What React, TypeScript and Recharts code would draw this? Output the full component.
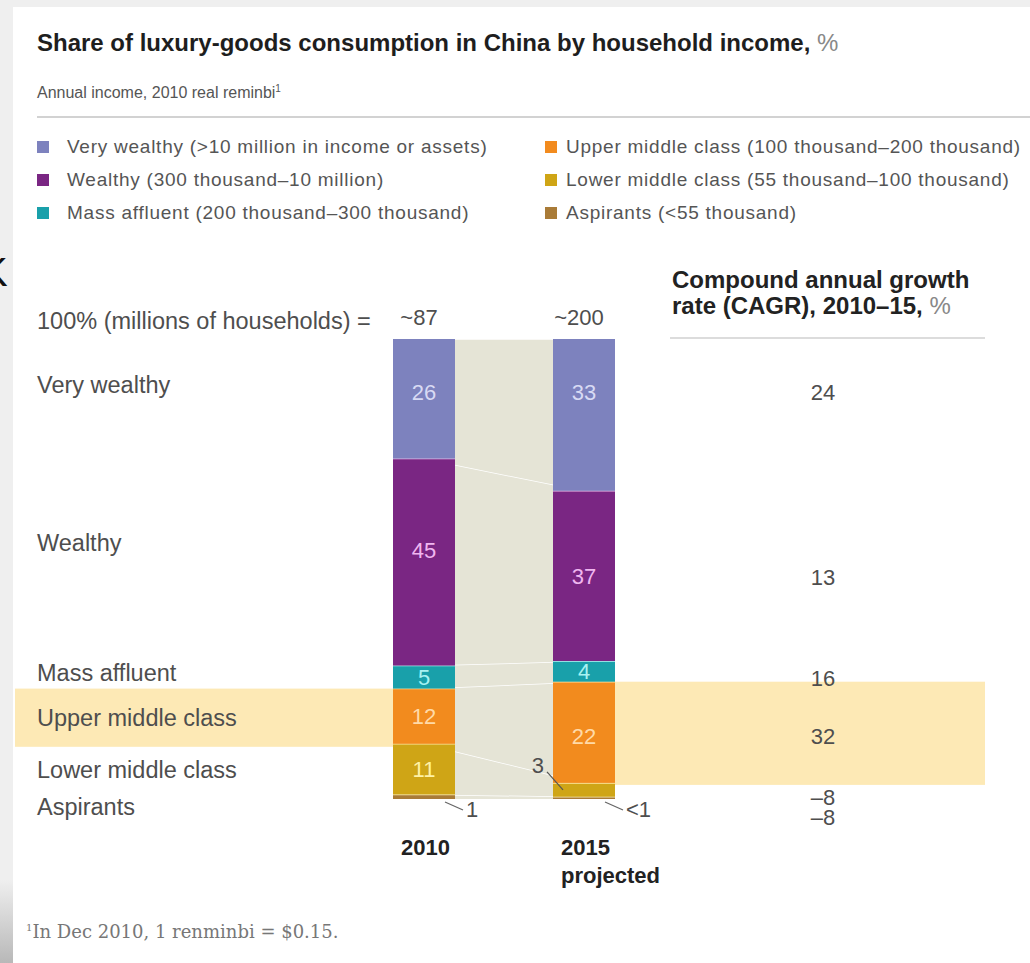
import { ComposedChart, Bar, Area, XAxis, YAxis, LabelList } from 'recharts';

const years = ['2010', '2015'];
const yearLines = [['2010'], ['2015', 'projected']];
const households = ['~87', '~200'];

// segments, listed top to bottom as in the bars
const segments = ['Very wealthy', 'Wealthy', 'Mass affluent', 'Upper middle class', 'Lower middle class', 'Aspirants'];
const legendNames = [
  'Very wealthy (>10 million in income or assets)',
  'Wealthy (300 thousand–10 million)',
  'Mass affluent (200 thousand–300 thousand)',
  'Upper middle class (100 thousand–200 thousand)',
  'Lower middle class (55 thousand–100 thousand)',
  'Aspirants (<55 thousand)',
];
const share2010 = [26, 45, 5, 12, 11, 1];
const share2015 = [33, 37, 4.5, 22, 3, 0.5];
const labels2010 = ['26', '45', '5', '12', '11', '1'];
const labels2015 = ['33', '37', '4', '22', '3', '<1'];
const cagr = ['24', '13', '16', '32', '–8', '–8'];

const keys = ['veryWealthy', 'wealthy', 'massAffluent', 'upperMiddle', 'lowerMiddle', 'aspirants'];
const colors = ['#7d82be', '#7a2683', '#19a0aa', '#f28b1e', '#cfa516', '#a97b37'];
const valueColors = ['#d8daf4', '#f0b6f0', '#a8f2f2', '#ffdaa8', '#fff2a6', '#555'];
const sepColors = ['#fff', '#efc8ef', '#bff4f4', '#ffe3a0', '#ffe9a6', '#f5e6b0'];

const FONT = "'Liberation Sans', Arial, Helvetica, sans-serif";
const GAP = '#e5e4d6';
const BAND = '#fde9b5';
const TEXT = '#4e4e4e';

const data = years.map((year, i) => {
  const row: Record<string, string | number> = { year };
  keys.forEach((k, s) => {
    row[k] = (i === 0 ? share2010 : share2015)[s];
  });
  return row;
});

// small nudges so the texts sit where the original puts them
const rowDy = [-14, -19, -4, 2, 1, 10];
const valueDy = [[-7, -12, 0, 0, 0, 0], [-23, 0, 0, 4, 0, 0]];
const cagrDy = [-23, 1, 7, 4, 7, 19];

const segmentShape = (s: number) => (props: any) => {
  const { x, y, width, height, fill, index } = props;
  return (
    <g>
      {s === 3 && index === 0 && <rect x={x - 378} y={y} width={378} height={height + 3} fill={BAND} />}
      {s === 3 && index === 1 && <rect x={x + width} y={y} width={370} height={height + 2} fill={BAND} />}
      <rect x={x} y={y} width={width} height={height} fill={fill} />
      {s > 0 && <line x1={x} x2={x + width} y1={y} y2={y} stroke={sepColors[s]} strokeWidth={1.5} />}
    </g>
  );
};

const segmentLabel = (s: number) => (props: any) => {
  const vb = props.viewBox ?? props;
  const { x, y, width, height } = vb;
  const i = props.index;
  const cx = x + width / 2;
  const cy = y + height / 2;
  const text = (i === 0 ? labels2010 : labels2015)[s];
  const outside = s === 5 || (s === 4 && i === 1);
  return (
    <g fontFamily={FONT}>
      {s === 0 && (
        <text x={cx - 5} y={y - 22} dy="0.35em" textAnchor="middle" fontSize={22} fill={TEXT}>
          {households[i]}
        </text>
      )}
      {i === 0 ? (
        <text x={x - 356} y={cy + rowDy[s]} dy="0.35em" fontSize={23.5} fill={TEXT}>
          {segments[s]}
        </text>
      ) : (
        <text x={x + width + 208} y={cy + cagrDy[s]} dy="0.35em" textAnchor="middle" fontSize={22} fill={TEXT}>
          {cagr[s]}
        </text>
      )}
      {!outside && (
        <text x={cx} y={cy + valueDy[i][s]} dy="0.35em" textAnchor="middle" fontSize={22} fill={valueColors[s]}>
          {text}
        </text>
      )}
      {s === 5 && (
        <g>
          <line x1={x + width - 10} y1={y + height + 3} x2={x + width + 8} y2={y + height + 11} stroke="#666" strokeWidth={1.2} />
          <text x={x + width + 11} y={y + height + 10} dy="0.35em" fontSize={22} fill={TEXT}>
            {text}
          </text>
        </g>
      )}
      {s === 4 && i === 1 && (
        <g>
          <line x1={x + 10} y1={cy} x2={x - 6} y2={cy - 18} stroke="#555" strokeWidth={1.2} />
          <text x={x - 9} y={cy - 25} dy="0.35em" textAnchor="end" fontSize={22} fill={TEXT}>
            {text}
          </text>
        </g>
      )}
    </g>
  );
};

const YearTick = (props: any) => {
  const { x, y, payload, index } = props;
  const lines = yearLines[index] ?? [payload.value];
  return (
    <text x={x - 23} y={y} fontFamily={FONT} fontWeight="bold" fontSize={22} fill="#222">
      {lines.map((l, k) => (
        <tspan key={k} x={x - 23} dy={k === 0 ? 48 : 28}>
          {l}
        </tspan>
      ))}
    </text>
  );
};

export default function App() {
  const order = [5, 4, 3, 2, 1, 0]; // stack from the bottom up
  return (
    <div style={{ position: 'absolute', left: 0, top: 0, width: 1030, height: 963, background: '#efefef', overflow: 'hidden', fontFamily: FONT }}>
      <div style={{ position: 'absolute', left: -19, top: 252, fontSize: 40, color: '#111', lineHeight: 1 }}>K</div>
      <div style={{ position: 'absolute', left: 0, top: 880, width: 13, height: 83, background: 'linear-gradient(#efefef, #b8b8b8)' }} />
      <div style={{ position: 'absolute', left: 13, top: 7, right: 0, bottom: 0, background: '#fff' }} />

      <div style={{ position: 'absolute', left: 37, top: 31, fontSize: 24, lineHeight: 1, fontWeight: 'bold', color: '#1e1e1e', whiteSpace: 'nowrap' }}>
        Share of luxury-goods consumption in China by household income, <span style={{ fontWeight: 'normal', color: '#888' }}>%</span>
      </div>
      <div style={{ position: 'absolute', left: 37, top: 84, fontSize: 16, lineHeight: 1, color: '#555', whiteSpace: 'nowrap' }}>
        Annual income, 2010 real reminbi<sup style={{ fontSize: 10 }}>1</sup>
      </div>
      <div style={{ position: 'absolute', left: 37, right: 0, top: 116, height: 2, background: '#d2d2d2' }} />

      {legendNames.map((name, s) => {
        const col = s < 3 ? 0 : 1;
        const row = s % 3;
        return (
          <div key={name} style={{ position: 'absolute', left: col === 0 ? 37 : 545, top: 147 + row * 33 - 10, height: 20, display: 'flex', alignItems: 'center', whiteSpace: 'nowrap' }}>
            <div style={{ width: 12, height: 12, background: colors[s], marginRight: col === 0 ? 18 : 9 }} />
            <span style={{ fontSize: 19, letterSpacing: 0.75, color: '#555' }}>{name}</span>
          </div>
        );
      })}

      <div style={{ position: 'absolute', left: 37, top: 310, fontSize: 23.5, lineHeight: 1, color: TEXT, whiteSpace: 'nowrap' }}>
        100% (millions of households) =
      </div>
      <div style={{ position: 'absolute', left: 672, top: 267, fontSize: 24, lineHeight: '26px', fontWeight: 'bold', color: '#222', whiteSpace: 'nowrap' }}>
        Compound annual growth
        <br />
        rate (CAGR), 2010–15, <span style={{ fontWeight: 'normal', color: '#888' }}>%</span>
      </div>
      <div style={{ position: 'absolute', left: 670, top: 337, width: 315, height: 2, background: '#dcdcdc' }} />

      <div style={{ position: 'absolute', left: 13, top: 250 }}>
        <ComposedChart width={1017} height={650} data={data} margin={{ top: 89, right: 366, bottom: 41, left: 331 }}>
          <XAxis dataKey="year" height={60} axisLine={false} tickLine={false} tick={<YearTick />} interval={0} />
          <YAxis hide domain={[0, 100]} />
          {order.map((s) => (
            <Area
              key={`flow-${keys[s]}`}
              type="linear"
              dataKey={keys[s]}
              stackId="flow"
              fill={GAP}
              fillOpacity={1}
              stroke="#fff"
              strokeWidth={1.5}
              dot={false}
              activeDot={false}
              isAnimationActive={false}
            />
          ))}
          {order.map((s) => (
            <Bar
              key={keys[s]}
              dataKey={keys[s]}
              stackId="share"
              fill={colors[s]}
              barSize={62}
              shape={segmentShape(s)}
              isAnimationActive={false}
            >
              <LabelList dataKey={keys[s]} content={segmentLabel(s)} />
            </Bar>
          ))}
        </ComposedChart>
      </div>

      <div style={{ position: 'absolute', left: 26, top: 923, fontSize: 18, lineHeight: 1, color: '#777', fontFamily: "'DejaVu Serif', 'Liberation Serif', serif", whiteSpace: 'nowrap' }}>
        <sup style={{ fontSize: 10 }}>1</sup>In Dec 2010, 1 renminbi = $0.15.
      </div>
    </div>
  );
}
